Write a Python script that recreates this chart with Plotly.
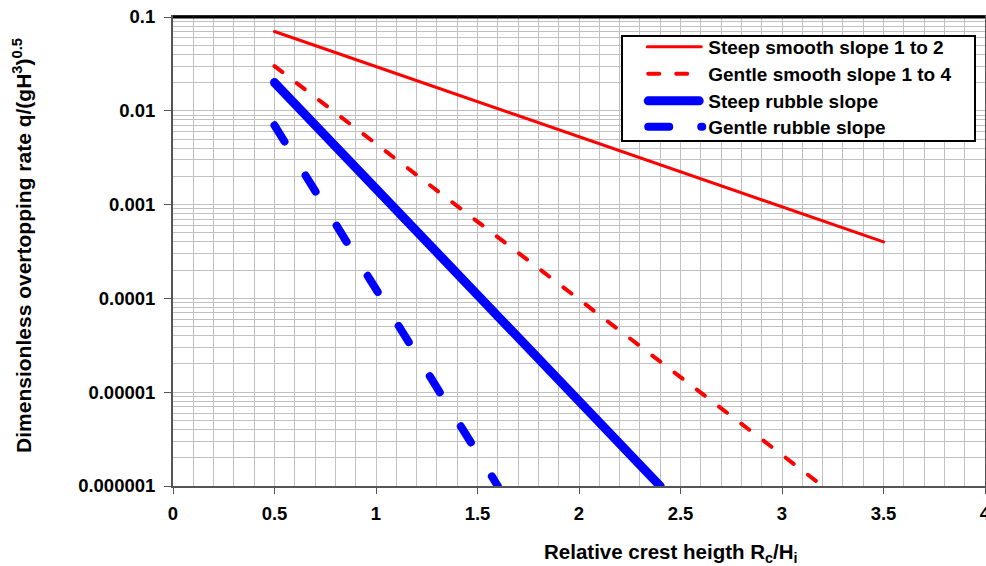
import plotly.graph_objects as go

# Relative crest height Rc/Hi at the ends of each design line
steep_smooth_x = [0.5, 3.5]
steep_smooth_q = [0.07, 0.0004]

gentle_smooth_x = [0.5, 3.2]
gentle_smooth_q = [0.03, 0.000001]

steep_rubble_x = [0.5, 2.4]
steep_rubble_q = [0.02, 0.000001]

gentle_rubble_x = [0.5, 1.6]
gentle_rubble_q = [0.007, 0.000001]

y_tick_vals = [0.1, 0.01, 0.001, 0.0001, 0.00001, 0.000001]
y_tick_text = ["0.1", "0.01", "0.001", "0.0001", "0.00001", "0.000001"]
x_tick_vals = [0, 0.5, 1, 1.5, 2, 2.5, 3, 3.5, 4]
x_tick_text = ["0", "0.5", "1", "1.5", "2", "2.5", "3", "3.5", "4"]

FONT = "Liberation Sans, Arial, sans-serif"

fig = go.Figure()
fig.add_trace(go.Scatter(x=steep_smooth_x, y=steep_smooth_q, mode="lines",
                         name="Steep smooth slope 1 to 2",
                         line=dict(color="#ff0000", width=3)))
fig.add_trace(go.Scatter(x=gentle_smooth_x, y=gentle_smooth_q, mode="lines",
                         name="Gentle smooth slope 1 to 4",
                         line=dict(color="#ff0000", width=4, dash="10px,18px")))
fig.add_trace(go.Scatter(x=steep_rubble_x, y=steep_rubble_q, mode="lines",
                         name="Steep rubble slope",
                         line=dict(color="#0000ff", width=9)))
fig.add_trace(go.Scatter(x=gentle_rubble_x, y=gentle_rubble_q, mode="lines",
                         name="Gentle rubble slope",
                         line=dict(color="#0000ff", width=8, dash="19px,40px")))

grid = "#c0c0c0"
axis_grey = "#555555"
fig.update_layout(
    width=986, height=566,
    margin=dict(l=173, r=1, t=17, b=80, autoexpand=False),
    paper_bgcolor="white", plot_bgcolor="white",
    font=dict(family=FONT, size=16, color="black"),
    showlegend=True,
    legend=dict(
        x=0.552, y=0.962, xanchor="left", yanchor="top",
        bgcolor="white", bordercolor="black", borderwidth=2,
        font=dict(family=FONT, size=19, color="black", weight="bold"),
        itemwidth=75,
    ),
    xaxis=dict(
        range=[0, 4], tickvals=x_tick_vals, ticktext=x_tick_text,
        showgrid=True, gridcolor=grid, gridwidth=1,
        minor=dict(dtick=0.1, showgrid=True, gridcolor=grid, gridwidth=1),
        showline=True, linecolor=axis_grey, linewidth=2, mirror=True,
        ticks="outside", ticklen=6, tickcolor=axis_grey, tickwidth=1,
        tickfont=dict(family=FONT, size=18.5, color="black", weight="bold"),
        ticklabeloverflow="allow", ticklabelstandoff=4,
        zeroline=False,
    ),
    yaxis=dict(
        type="log", range=[-6, -1], tickvals=y_tick_vals, ticktext=y_tick_text,
        showgrid=True, gridcolor=grid, gridwidth=1,
        minor=dict(dtick="D1", showgrid=True, gridcolor=grid, gridwidth=1),
        showline=True, linecolor=axis_grey, linewidth=2, mirror=True,
        ticks="outside", ticklen=7, tickcolor=axis_grey, tickwidth=1,
        tickfont=dict(family=FONT, size=18.5, color="black", weight="bold"),
        ticklabelstandoff=5,
        zeroline=False,
    ),
    shapes=[dict(type="line", xref="paper", yref="paper", x0=0, x1=1, y0=1, y1=1,
                 line=dict(color="black", width=3))],
    annotations=[
        dict(text="Relative crest heigth R<sub>c</sub>/H<sub>i</sub>",
             xref="paper", yref="paper", x=0.613, y=-0.143,
             xanchor="center", yanchor="middle", showarrow=False,
             font=dict(family=FONT, size=20.5, color="black", weight="bold")),
        dict(text="Dimensionless overtopping rate q/(gH<sup>3</sup>)<sup>0.5</sup>",
             xref="paper", yref="paper", x=-0.186, y=0.514,
             xanchor="center", yanchor="middle", showarrow=False, textangle=-90,
             font=dict(family=FONT, size=21, color="black", weight="bold")),
    ],
)

# Round line caps, longer legend sample lines and a compact legend box
post_js = """
var gd = document.getElementById('{plot_id}');
gd.querySelectorAll('.scatterlayer .js-line').forEach(function (p) {
  p.style.strokeLinecap = 'round';
});
var legendPaths = gd.querySelectorAll('.legend .legendlines path');
legendPaths.forEach(function (p, i) {
  p.style.strokeLinecap = 'round';
  if (i === 0) {
    p.setAttribute('d', 'M24,0h54');
  } else if (i === 1) {
    p.setAttribute('d', 'M25,0h39');
    p.style.strokeDasharray = '11px,17px';
  } else if (i === 2) {
    p.setAttribute('d', 'M25,0h51');
  } else {
    p.setAttribute('d', 'M25,0h54');
    p.style.strokeDasharray = '21px,32px';
  }
});
var legend = gd.querySelector('.legend');
if (legend) {
  var bg = legend.querySelector('rect.bg');
  if (bg) {
    bg.setAttribute('width', 353);
    bg.setAttribute('height', 105);
  }
  var box = legend.querySelector('.scrollbox');
  if (box) { box.removeAttribute('clip-path'); }
  var rowY = [12, 39, 66, 92];
  legend.querySelectorAll('g.traces').forEach(function (t, i) {
    var m = /translate\\(([^,]+),/.exec(t.getAttribute('transform') || '');
    var tx = m ? parseFloat(m[1]) : 0;
    t.setAttribute('transform', 'translate(' + tx + ',' + rowY[i] + ')');
  });
}
"""

fig.write_html("out.html", post_script=post_js)
